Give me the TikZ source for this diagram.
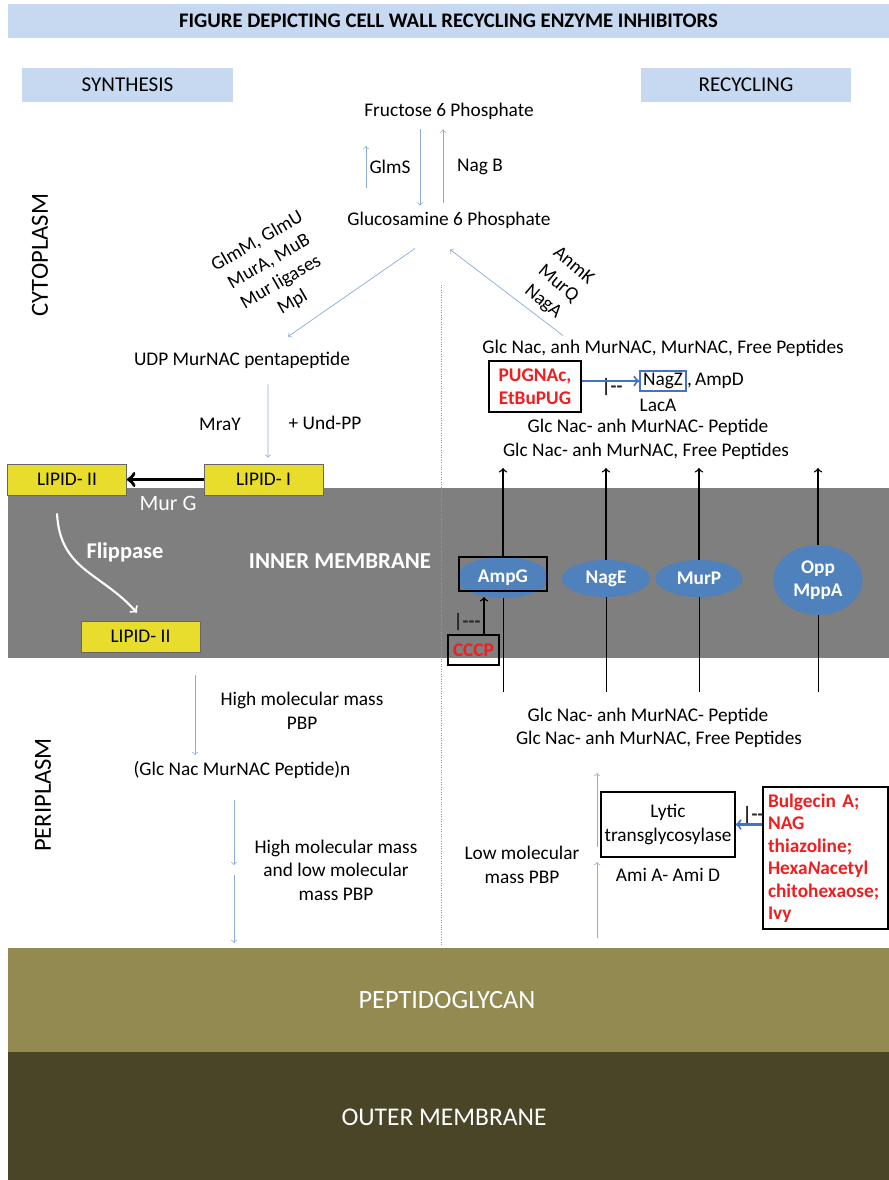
\documentclass[tikz,border=0pt]{standalone}
\usepackage{fontspec}
\setmainfont{Carlito}
\usetikzlibrary{shapes.geometric,calc}
\definecolor{barblue}{RGB}{198,217,240}
\definecolor{memgray}{RGB}{127,127,127}
\definecolor{lipyellow}{RGB}{232,221,44}
\definecolor{pumpblue}{RGB}{79,129,189}
\definecolor{flowblue}{RGB}{140,170,215}
\definecolor{inhblue}{RGB}{68,114,196}
\definecolor{pgolive}{RGB}{147,138,82}
\definecolor{omolive}{RGB}{73,69,38}
\definecolor{inhred}{RGB}{240,30,30}
\tikzstyle{header}=[rectangle, fill=barblue, inner sep=0pt, anchor=center]
\tikzstyle{annot}=[align=center]
\tikzstyle{region}=[align=center, font=\fontsize{14}{16}\selectfont]
\tikzstyle{lipid}=[rectangle, fill=lipyellow, draw=black!60, minimum width=2.38cm, minimum height=0.62cm, inner sep=0pt]
\tikzstyle{pump}=[ellipse, fill=pumpblue, text=white, font=\fontsize{11}{13.4}\selectfont\bfseries, align=center, inner sep=0pt]
\tikzstyle{drug}=[rectangle, draw=black, line width=1.2pt, text=inhred, font=\fontsize{11}{12.8}\selectfont\bfseries, inner sep=0pt]
\tikzstyle{inhib}=[inner sep=0pt, text=black!85, font=\fontsize{11}{13}\selectfont\bfseries]
\tikzstyle{flow}=[->, draw=flowblue]
\tikzstyle{block}=[->, draw=inhblue, line width=1.2pt]
\tikzstyle{track}=[->, draw=black, thick]

\begin{document}
\begin{tikzpicture}[x=0.02cm, y=-0.02cm, font=\fontsize{11}{13.4}\selectfont]
	\useasboundingbox (0,0) rectangle (889,1180);
	% cell envelope layers
	\fill[memgray] (8,488) rectangle (889,658);
	\fill[pgolive] (8,948) rectangle (889,1052);
	\fill[omolive] (8,1052) rectangle (889,1180);
	\draw[densely dotted, black!40] (441,285) -- (441,945);

	\node[header, minimum width=17.62cm, minimum height=0.7cm, font=\fontsize{11.8}{14}\selectfont\bfseries](title) at (448.5,21){FIGURE DEPICTING CELL WALL RECYCLING ENZYME INHIBITORS};
	\node[header, minimum width=4.22cm, minimum height=0.68cm, font=\fontsize{12}{14}\selectfont](synth) at (127.5,85){SYNTHESIS};
	\node[header, minimum width=4.2cm, minimum height=0.68cm, font=\fontsize{12}{14}\selectfont](recyc) at (746,85){RECYCLING};

	\node[region, rotate=90](cyto) at (40,255){CYTOPLASM};
	\node[region, rotate=90](peri) at (43,795){PERIPLASM};
	\node[region, text=white, font=\fontsize{15}{17}\selectfont](pg) at (447,1000){PEPTIDOGLYCAN};
	\node[region, text=white, font=\fontsize{14.5}{17}\selectfont](om) at (444,1117){OUTER MEMBRANE};
	\node[annot, text=white, font=\fontsize{13}{15}\selectfont\bfseries](im) at (340,561){INNER MEMBRANE};

	% sugar phosphates
	\node[annot](fru) at (449,111){Fructose 6 Phosphate};
	\node[annot](glc) at (449,220){Glucosamine 6 Phosphate};
	\node[annot](glms) at (390,167){GlmS};
	\node[annot](nagb) at (480,167){Nag B};
	\coordinate (g1) at (366,188);
	\coordinate (g2) at (366,146);
	\draw[flow] (g1) -- (g2);
	\draw[flow] ($(fru.south)+(-29,4)$) -- ($(glc.north)+(-29,0)$);
	\draw[flow] ($(glc.north)+(-6,-3)$) -- ($(fru.south)+(-6,4)$);

	% synthesis
	\node[annot](udp) at (242,360){UDP MurNAC pentapeptide};
	\node[annot, rotate=30](murlig) at (275,272){GlmM, GlmU\\MurA, MuB\\Mur ligases\\Mpl};
	\draw[flow] ($(glc.south)+(-34,14)$) -- ($(udp.north)+(46,-9)$);
	\node[annot](mray) at (220,424){MraY};
	\node[annot](undpp) at (325,423){+ Und-PP};
	\node[lipid](lip1) at (263.5,479.5){LIPID- I};
	\node[lipid](lip2) at (67,479.5){LIPID- II};
	\node[lipid](lip2b) at (140.5,636.5){LIPID- II};
	\draw[flow] ($(udp.south)+(26,10)$) -- ($(lip1.north)+(4.5,-6)$);
	\draw[->, line width=2pt] (lip1.west) -- (lip2.east);
	\node[annot, text=white, font=\fontsize{12.5}{15}\selectfont](murg) at (168,503){Mur G};
	\draw[->, white, line width=1.2pt] ($(lip2.south)+(-10,18)$) .. controls +(3,57) and +(-37,-41) .. ($(lip2b.north)+(-3.5,-8)$);
	\node[annot, text=white, font=\fontsize{12.8}{15}\selectfont\bfseries](flip) at (125,552){Flippase};

	% periplasm, synthesis side
	\node[annot](hmm1) at (302,711){High molecular mass\\PBP};
	\node[annot](glcn) at (242,770){(Glc Nac MurNAC Peptide)n};
	\node[annot](hmm2) at (336,870){High molecular mass\\and low molecular\\mass PBP};
	\coordinate (p1) at (195,675);
	\coordinate (p2a) at (234,800);
	\coordinate (p2b) at (234,865);
	\coordinate (p3a) at (234,875);
	\coordinate (p3b) at (234,943);
	\draw[flow] (p1) -- (p1 |- glcn.north);
	\draw[flow] (p2a) -- (p2b);
	\draw[flow] (p3a) -- (p3b);

	% recycling
	\node[annot](rec1) at (663,348){Glc Nac, anh MurNAC, MurNAC, Free Peptides};
	\node[annot, rotate=-40](anmk) at (558,284){AnmK\\MurQ\\NagA};
	\draw[flow] ($(rec1.north)+(-100,2)$) -- ($(glc.south)+(1,15)$);
	\node[drug, minimum width=1.84cm, minimum height=1.02cm, align=center](pug) at (535,386.5){PUGNAc,\\EtBuPUG};
	\node[rectangle, draw=inhblue, thick, minimum width=0.92cm, minimum height=0.4cm, inner sep=1pt](nagz) at (663,381){NagZ};
	\node[anchor=west, inner sep=0pt](ampd) at ($(nagz.east)+(0,0)$){,\,AmpD};
	\node[annot](laca) at (658,405){LacA};
	\node[inhib](pugmark) at (612,387){|-{}-};
	\draw[block] (pug.east |- nagz) -- (nagz.west);
	\node[annot](rec2) at (648,427){Glc Nac- anh MurNAC- Peptide};
	\node[annot](rec3) at (646,451){Glc Nac- anh MurNAC, Free Peptides};

	% transporters
	\node[pump, minimum width=1.84cm, minimum height=0.82cm](ampg) at (503,577.5){AmpG};
	\node[rectangle, draw=black, line width=1.2pt, minimum width=1.76cm, minimum height=0.68cm](ampgbox) at (503,574){};
	\node[pump, minimum width=1.76cm, minimum height=0.74cm](nage) at (606,578.5){NagE};
	\node[pump, minimum width=1.74cm, minimum height=0.74cm](murp) at (699,578.5){MurP};
	\node[pump, minimum width=1.78cm, minimum height=1.4cm](opp) at (818,580){Opp\\MppA};
	\coordinate (t1) at (503,468);
	\coordinate (b1) at (503,692);
	\coordinate (t2) at (606,468);
	\coordinate (b2) at (606,692);
	\coordinate (t3) at (699,468);
	\coordinate (b3) at (699,692);
	\coordinate (t4) at (818,468);
	\coordinate (b4) at (818,692);
	\draw (b1) -- (ampg.south);
	\draw[track] (ampgbox.north) -- (t1);
	\draw (b2) -- (nage.south);
	\draw[track] (nage.north) -- (t2);
	\draw (b3) -- (murp.south);
	\draw[track] (murp.north) -- (t3);
	\draw (b4) -- (opp.south);
	\draw[track] (opp.north) -- (t4);
	\node[drug, minimum width=1.02cm, minimum height=0.6cm](cccp) at (473.5,650){CCCP};
	\coordinate (ampgin) at (484,597);
	\draw[->, thick] (cccp.north -| ampgin) -- (ampgin);
	\node[inhib](cccpmark) at (467,622){|-{}-{}-};

	% periplasm, recycling side
	\node[annot](rec4) at (648,716){Glc Nac- anh MurNAC- Peptide};
	\node[annot](rec5) at (659,739){Glc Nac- anh MurNAC, Free Peptides};
	\node[rectangle, draw=black, thick, align=center, minimum width=2.68cm, minimum height=1.3cm, inner sep=1pt](lytic) at (668,824.5){Lytic\\transglycosylase};
	\node[annot](ami) at (668,875){Ami A- Ami D};
	\node[annot](lmm) at (522,865){Low molecular\\mass PBP};
	\coordinate (l1a) at (597,938);
	\coordinate (l1b) at (597,862);
	\coordinate (l2a) at (597,847);
	\coordinate (l2b) at (597,773);
	\draw[flow] (l1a) -- (l1b);
	\draw[flow] (l2a) -- (l2b);
	\node[drug, minimum width=2.5cm, minimum height=2.84cm, text width=2.3cm, inner xsep=0.1cm, align=left](bulg) at (825.5,858){Bulgecin A;\\NAG\\thiazoline;\\Hexa\textit{N}acetyl\\chitohexaose;\\Ivy};
	\draw[block] (bulg.west |- lytic) -- (lytic.east);
	\node[inhib](lytmark) at (753,815){|-{}-};
\end{tikzpicture}
\end{document}
